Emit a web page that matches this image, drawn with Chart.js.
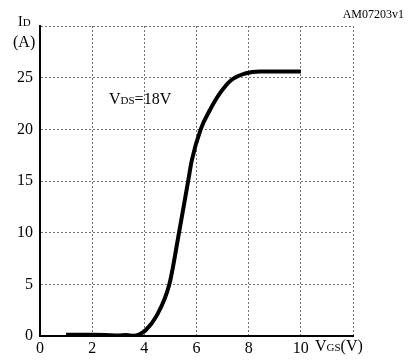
<!DOCTYPE html>
<html>
<head>
<meta charset="utf-8">
<script src="https://cdn.jsdelivr.net/npm/chart.js@4"></script>
<style>
    body { margin: 0; background: #ffffff; }
    #idChart { display: block; }
</style>
</head>
<body>
<canvas id="idChart" width="414" height="360"></canvas>
<script>
// transfer characteristic
const vgs = [1, 2, 2.5, 3, 3.3, 3.6, 3.8, 4.06, 4.45, 4.96, 5.33, 5.68, 5.82, 6.16, 6.52, 6.9, 7.35, 7.86, 8.44, 9, 10];
const idAmps = [0.12, 0.12, 0.1, 0.05, 0.1, 0.02, 0.15, 0.58, 1.87, 5, 10, 15, 17, 20, 21.9, 23.5, 24.8, 25.4, 25.6, 25.6, 25.6];

const xTicks = [0, 2, 4, 6, 8, 10];
const yTicks = [0, 5, 10, 15, 20, 25];

const SERIF = "'Liberation Serif', 'Times New Roman', serif";

const points = vgs.map((v, i) => ({ x: v, y: idAmps[i] }));

// draws runs of text with mixed sizes (for the small subscript letters)
function drawRuns(ctx, x, y, runs, align)
{
    let total = 0;
    for (const run of runs)
    {
        ctx.font = run[1] + "px " + SERIF;
        total += ctx.measureText(run[0]).width;
    }
    let cx = align == "right" ? x - total : x;
    for (const run of runs)
    {
        ctx.font = run[1] + "px " + SERIF;
        ctx.fillText(run[0], cx, y);
        cx += ctx.measureText(run[0]).width;
    }
}

const labelPlugin = {
    id: "labels",
    afterDraw(chart)
    {
        const ctx = chart.ctx;
        ctx.save();
        ctx.fillStyle = "#000000";
        ctx.textBaseline = "alphabetic";
        ctx.textAlign = "left";
        drawRuns(ctx, 18, 26, [["I", 14], ["D", 11]]);
        drawRuns(ctx, 13, 47, [["(A)", 16]]);
        drawRuns(ctx, 109, 104, [["V", 16], ["DS", 11], ["=18V", 16]]);
        drawRuns(ctx, 315, 351, [["V", 16], ["GS", 11], ["(V)", 16]]);
        drawRuns(ctx, 404, 18, [["AM07203v1", 12]], "right");
        ctx.restore();
    }
};

const gridStyle = {
    color: "#707070",
    lineWidth: 1,
    drawTicks: false
};

new Chart(document.getElementById("idChart"), {
    type: "line",
    data: {
        datasets: [{
            label: "ID",
            data: points,
            borderColor: "#000000",
            borderWidth: 4,
            pointRadius: 0,
            cubicInterpolationMode: "monotone",
            fill: false
        }]
    },
    options: {
        responsive: false,
        animation: false,
        layout: {
            padding: { left: 0, top: 26, right: 61, bottom: 0 }
        },
        plugins: {
            legend: { display: false },
            tooltip: { enabled: false }
        },
        scales: {
            x: {
                type: "linear",
                min: 0,
                max: 12,
                afterBuildTicks: axis => { axis.ticks = [...xTicks, 12].map(v => ({ value: v })); },
                afterFit: axis => { axis.height = 24; },
                grid: gridStyle,
                // in v4 the dash here is what the grid lines use; the axis line stays solid
                border: { display: true, color: "#000000", width: 2, dash: [2, 2] },
                ticks: {
                    padding: 3,
                    color: "#000000",
                    font: { family: SERIF, size: 16 },
                    maxRotation: 0,
                    callback: v => xTicks.includes(v) ? String(v) : ""
                }
            },
            y: {
                min: 0,
                max: 30,
                afterBuildTicks: axis => { axis.ticks = [...yTicks, 30].map(v => ({ value: v })); },
                afterFit: axis => { axis.width = 40; },
                grid: gridStyle,
                border: { display: true, color: "#000000", width: 2, dash: [2, 2] },
                ticks: {
                    padding: 7,
                    color: "#000000",
                    font: { family: SERIF, size: 16 },
                    callback: v => yTicks.includes(v) ? String(v) : ""
                }
            }
        }
    },
    plugins: [labelPlugin]
});
</script>
</body>
</html>
